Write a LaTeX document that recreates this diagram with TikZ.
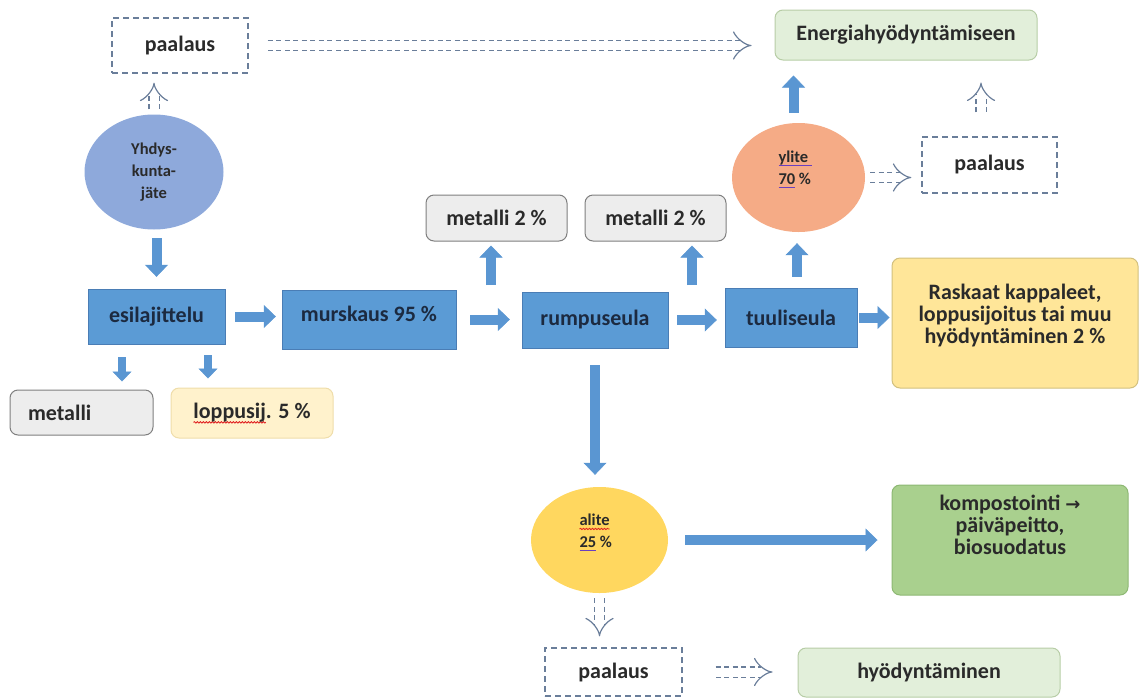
\documentclass[tikz,border=0pt]{standalone}
\usepackage{fontspec}
\setmainfont{Carlito}
\newfontfamily\arrowfont{DejaVu Sans}
\usetikzlibrary{arrows.meta,shapes.geometric,decorations.pathmorphing}
\definecolor{procblue}{HTML}{5B9BD5}
\definecolor{procedge}{HTML}{4A7DB5}
\definecolor{flowblue}{HTML}{5A96D2}
\definecolor{dashgray}{HTML}{6A7E9A}
\definecolor{txt}{HTML}{2A2A2A}
\definecolor{proctxt}{HTML}{1C2A40}
\definecolor{lightgreen}{HTML}{E2EFDA}
\definecolor{lightgreenedge}{HTML}{B7CDA6}
\definecolor{midgreen}{HTML}{A9D08E}
\definecolor{midgreenedge}{HTML}{8DB873}
\definecolor{graybox}{HTML}{EDEDED}
\definecolor{grayedge}{HTML}{7F7F7F}
\definecolor{paleyellow}{HTML}{FFF2CC}
\definecolor{paleyellowedge}{HTML}{EFDDAA}
\definecolor{sandyellow}{HTML}{FFE699}
\definecolor{sandyellowedge}{HTML}{D2C07E}
\definecolor{wastecolor}{HTML}{8EA9DB}
\definecolor{overcolor}{HTML}{F5AB86}
\definecolor{undercolor}{HTML}{FFD75F}
\definecolor{spellred}{HTML}{E02020}
\definecolor{grampurple}{HTML}{6A3FC0}
\newsavebox\markbox
\newcommand{\spell}[1]{\leavevmode\sbox\markbox{#1}\rlap{\tikz[overlay]\draw[spellred, line width=0.8pt, sharp corners,
  decorate, decoration={snake, amplitude=0.7pt, segment length=3pt}] (0pt,-3.5pt) -- (\wd\markbox,-3.5pt);}\usebox\markbox}
\newcommand{\gram}[1]{\leavevmode\sbox\markbox{#1}\rlap{\color{grampurple}\rule[-4pt]{\wd\markbox}{1.2pt}}\usebox\markbox}
% lift a text block off the node centre
\newcommand{\lift}[3]{\raisebox{#1}[0pt][0pt]{\parbox{#2}{#3}}}

\tikzset{
  proc/.style={draw=procedge, fill=procblue, inner sep=0pt, text=proctxt},
  outbox/.style={rounded corners=8pt, line width=1pt, inner sep=0pt, align=center},
  pile/.style={draw=dashgray, line width=1.2pt, dash pattern=on 6pt off 4pt, inner sep=0pt,
    minimum width=136pt},
  blob/.style={ellipse, inner sep=0pt, align=left, font=\fontsize{16.5}{22}\selectfont\bfseries},
  flow/.style={draw=flowblue, line width=10pt,
    -{Triangle[width=23pt,length=12pt,line width=0.5pt]}},
  smallflow/.style={draw=flowblue, line width=8pt,
    -{Triangle[width=19pt,length=10pt,line width=0.5pt]}},
  hollow/.style={draw=dashgray, line width=1.2pt, double=white, double distance=9pt,
    dash pattern=on 5pt off 3.5pt, -{Implies}}
}

\begin{document}
\begin{tikzpicture}[x=1pt,y=-1pt,
    every node/.style={text=txt, font=\fontsize{22}{22}\selectfont\bfseries}]
  \useasboundingbox (0,0) rectangle (1139,699);

  % sources and sinks
  \node (paal1) [pile, minimum height=55pt] at (180,45.5) {paalaus};
  \node (energia) [outbox, draw=lightgreenedge, fill=lightgreen, minimum width=262pt, minimum height=50pt]
    at (906,35) {Energiahyödyntämiseen};
  \node (yhd) [blob, fill=wastecolor, minimum width=139pt, minimum height=115pt, align=center]
    at (154,172) {Yhdys-\\kunta-\\jäte};
  \node (ylite) [blob, fill=overcolor, minimum width=133pt, minimum height=109pt]
    at (798.5,177.5) {\lift{3.5pt}{40pt}{\gram{ylite\ }\\\gram{70} \%}};
  \node (paal2) [pile, minimum height=56pt, minimum width=135pt] at (989.5,165) {paalaus};

  % main line
  \node (esil) [proc, minimum width=137pt, minimum height=55pt] at (156.5,316.5) {esilajittelu};
  \node (murs) [proc, minimum width=174pt, minimum height=59pt] at (369,319.5)
    {\raisebox{-1.5pt}[0pt][0pt]{murskaus 95 \%}};
  \node (rump) [proc, minimum width=146pt, minimum height=56pt] at (595,320) {rumpuseula};
  \node (tuul) [proc, minimum width=132pt, minimum height=59pt] at (791,317.5) {tuuliseula};
  \node (rask) [outbox, draw=sandyellowedge, fill=sandyellow, minimum width=246pt, minimum height=130pt]
    at (1015,323) {\lift{2.5pt}{240pt}{\centering Raskaat kappaleet,\\loppusijoitus tai muu\\hyödyntäminen 2 \%}};

  \node (met1) [outbox, draw=grayedge, fill=graybox, minimum width=141pt, minimum height=46pt]
    at (496.5,218) {metalli 2 \%};
  \node (met2) [outbox, draw=grayedge, fill=graybox, minimum width=141pt, minimum height=46pt]
    at (655.5,218) {metalli 2 \%};
  \node (metal) [outbox, draw=grayedge, fill=graybox, minimum height=45pt, text width=107pt,
    inner xsep=18pt, align=left] at (81.5,412.5) {metalli};
  \node (lopp) [outbox, draw=paleyellowedge, fill=paleyellow, minimum width=162pt, minimum height=50pt]
    at (252,413) {\spell{loppusij}. 5 \%};

  % fine fraction
  \node (alite) [blob, fill=undercolor, minimum width=137pt, minimum height=106pt]
    at (599.5,540) {\lift{3pt}{40pt}{\spell{alite}\\\gram{25} \%}};
  \node (komp) [outbox, draw=midgreenedge, fill=midgreen, minimum width=236pt, minimum height=110pt]
    at (1010,540) {\lift{9.5pt}{230pt}{\centering kompostointi {\arrowfont\fontsize{18}{22}\selectfont →}\\päiväpeitto,\\biosuodatus}};
  \node (paal3) [pile, minimum height=48pt, minimum width=137pt] at (613.5,672) {paalaus};
  \node (hyod) [outbox, draw=lightgreenedge, fill=lightgreen, minimum width=262pt, minimum height=49pt]
    at (929,672.5) {hyödyntäminen};

  \coordinate (split1) at (491,285);
  \coordinate (split2) at (692,285);

  % material flows
  \draw[flow, shorten <=8.5pt, shorten >=12pt] (esil.north |- yhd.south) -- (esil.north);
  \draw[flow, shorten <=10pt, shorten >=6pt] (esil.east) -- (esil.east -| murs.west);
  \draw[flow, shorten <=14pt, shorten >=12pt] (murs.east) -- (murs.east -| rump.west);
  \draw[flow, shorten <=9pt, shorten >=8pt] (rump.east) -- (rump.east -| tuul.west);
  \draw[flow, shorten <=2pt, shorten >=2pt] (tuul.east) -- (tuul.east -| rask.west);
  \draw[flow, shorten >=4pt] (split1) -- (split1 |- met1.south);
  \draw[flow, shorten >=4pt] (split2) -- (split2 |- met2.south);
  \draw[flow, shorten <=11pt, shorten >=11pt] ([xshift=6pt]tuul.north) -- ([xshift=6pt]tuul.north |- ylite.south);
  \draw[flow, shorten <=10pt, shorten >=15pt] ([xshift=-5pt]ylite.north) -- ([xshift=-5pt]ylite.north |- energia.south);
  \draw[smallflow, shorten <=13pt, shorten >=8pt] ([xshift=-34.5pt]esil.south) -- ([xshift=-34.5pt]esil.south |- metal.north);
  \draw[smallflow, shorten <=11pt, shorten >=9pt] ([xshift=51.5pt]esil.south) -- ([xshift=51.5pt]esil.south |- lopp.north);
  \draw[flow, shorten <=17pt, shorten >=12pt] (rump.south) -- (rump.south |- alite.north);
  \draw[flow, shorten <=17pt, shorten >=14pt] (alite.east) -- (alite.east -| komp.west);

  % baling alternatives
  \draw[hollow, shorten <=19pt, shorten >=23pt] (paal1.east) -- (paal1.east -| energia.west);
  \draw[hollow, shorten <=5pt, shorten >=9pt] (yhd.north) -- (yhd.north |- paal1.south);
  \draw[hollow, shorten <=5pt, shorten >=10pt] (ylite.east) -- (ylite.east -| paal2.west);
  \draw[hollow, shorten <=24pt, shorten >=22pt] ([xshift=-8.5pt]paal2.north) -- ([xshift=-8.5pt]paal2.north |- energia.south);
  \draw[hollow, shorten <=5pt, shorten >=11pt] (alite.south) -- (alite.south |- paal3.north);
  \draw[hollow, shorten <=33pt, shorten >=25pt] (paal3.east) -- (paal3.east -| hyod.west);
\end{tikzpicture}
\end{document}
